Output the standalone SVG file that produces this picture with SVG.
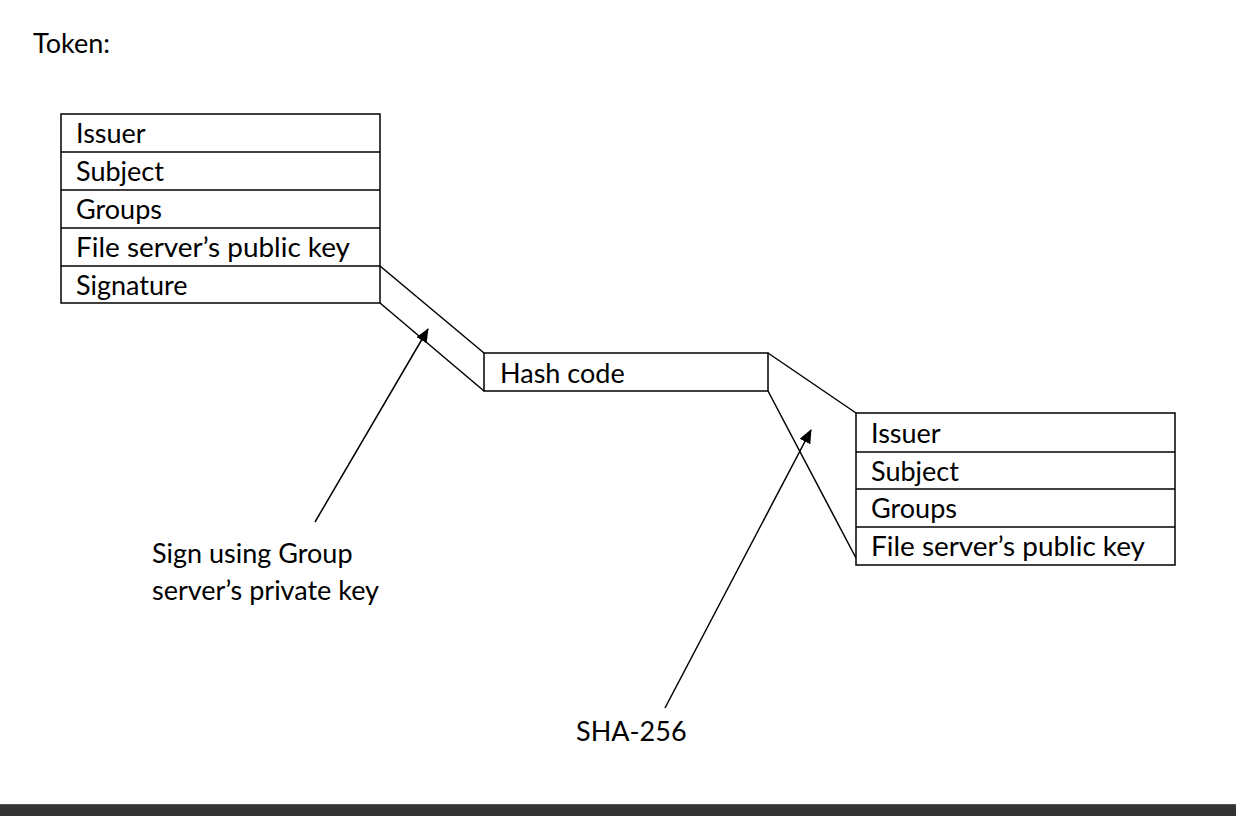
<svg xmlns="http://www.w3.org/2000/svg" width="1236" height="816" viewBox="0 0 1236 816">
<defs>
<marker id="ah" markerWidth="14" markerHeight="12" refX="13" refY="6" orient="auto" markerUnits="userSpaceOnUse">
<path d="M0,0 L14,6 L0,12 z" fill="#000"/>
</marker>
<style>
text{font-family:Lato,"Liberation Sans",sans-serif;font-size:27px;fill:#000}
.box{fill:#fff;stroke:#000;stroke-width:1.5}
.ln{stroke:#000;stroke-width:1.5;fill:none}
</style>
</defs>
<rect width="1236" height="816" fill="#fff"/>
<text x="33" y="53">Token:</text>
<g id="token">
<rect class="box" x="61" y="114" width="319" height="189"/>
<line class="ln" x1="61" y1="152" x2="380" y2="152"/>
<line class="ln" x1="61" y1="190" x2="380" y2="190"/>
<line class="ln" x1="61" y1="228" x2="380" y2="228"/>
<line class="ln" x1="61" y1="266" x2="380" y2="266"/>
<text x="76" y="143">Issuer</text>
<text x="76" y="181">Subject</text>
<text x="76" y="219">Groups</text>
<text x="76" y="257" textLength="274" lengthAdjust="spacingAndGlyphs">File server’s public key</text>
<text x="76" y="295">Signature</text>
</g>
<g id="hash">
<rect class="box" x="484" y="353" width="284" height="38"/>
<text x="500" y="383">Hash code</text>
</g>
<g id="payload">
<rect class="box" x="856" y="413" width="319" height="152"/>
<line class="ln" x1="856" y1="452" x2="1175" y2="452"/>
<line class="ln" x1="856" y1="489" x2="1175" y2="489"/>
<line class="ln" x1="856" y1="527" x2="1175" y2="527"/>
<text x="871" y="443">Issuer</text>
<text x="871" y="481">Subject</text>
<text x="871" y="518">Groups</text>
<text x="871" y="556" textLength="274" lengthAdjust="spacingAndGlyphs">File server’s public key</text>
</g>
<g id="connectors">
<line class="ln" x1="380" y1="266" x2="484" y2="353"/>
<line class="ln" x1="380" y1="303" x2="484" y2="391"/>
<line class="ln" x1="768" y1="353" x2="856" y2="413"/>
<line class="ln" x1="768" y1="391" x2="856" y2="558"/>
<line class="ln" x1="315" y1="522" x2="428" y2="329" marker-end="url(#ah)"/>
<line class="ln" x1="665" y1="708" x2="811" y2="430" marker-end="url(#ah)"/>
</g>
<g id="labels">
<text x="152" y="563">Sign using Group</text>
<text x="152" y="600">server’s private key</text>
<text x="576" y="741">SHA-256</text>
</g>
<rect x="0" y="804" width="1236" height="12" fill="#333"/>
<rect x="0" y="804" width="1236" height="1" fill="#555"/>
</svg>
